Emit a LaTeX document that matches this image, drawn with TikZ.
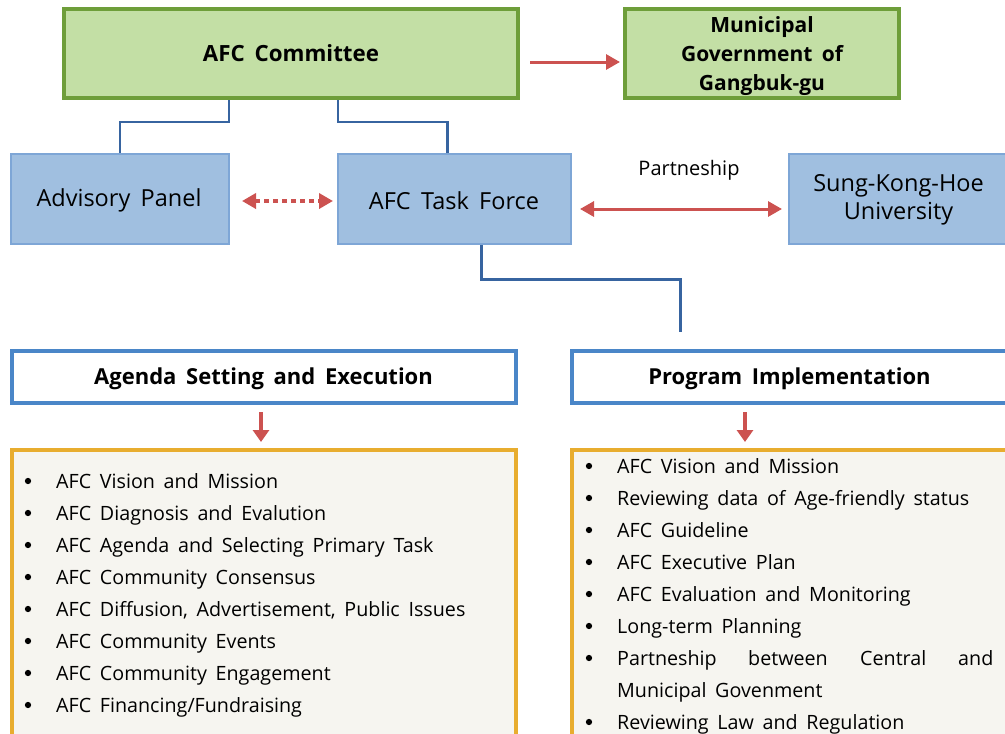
\documentclass[tikz,border=0pt]{standalone}
\usepackage{fontspec}
\setmainfont{Open Sans}[WordSpace={1.7}]
\usetikzlibrary{arrows.meta}
\definecolor{gfill}{HTML}{C3DFA5}
\definecolor{gline}{HTML}{6E9E3A}
\definecolor{bfill}{HTML}{A0BFE0}
\definecolor{bline}{HTML}{7EA6D6}
\definecolor{conn}{HTML}{3764A0}
\definecolor{redar}{HTML}{CC5250}
\definecolor{hline}{HTML}{4A86C8}
\definecolor{oline}{HTML}{E8AD2F}
\definecolor{ofill}{HTML}{F6F5F0}
\tikzset{
  greenbox/.style={draw=gline, fill=gfill, line width=4pt, inner sep=0pt},
  bluebox/.style={draw=bline, fill=bfill, line width=2pt, inner sep=0pt},
  bluetext/.style={inner sep=0pt, align=center, font=\fontsize{23.5}{28}\selectfont},
  headbox/.style={draw=hline, fill=white, line width=4pt, inner sep=0pt},
  headtext/.style={inner sep=0pt, font=\bfseries\fontsize{22}{26}\selectfont},
  listbox/.style={draw=oline, fill=ofill, line width=4pt, inner sep=0pt},
  connline/.style={draw=conn, line width=2.2pt},
  redarrow/.style={draw=redar, line width=3pt, -{Triangle[length=14pt,width=15pt]}},
  redboth/.style={draw=redar, line width=3pt, {Triangle[length=14pt,width=15pt]}-{Triangle[length=14pt,width=15pt]}},
  item/.style={anchor=base west, inner sep=0pt, font=\fontsize{19.7}{24}\selectfont},
  dot/.style={circle, fill=black, inner sep=0pt, minimum size=6.3pt}
}
\begin{document}
\begin{tikzpicture}[x=1pt,y=-1pt]
\useasboundingbox (0,0) rectangle (1005,734);
\clip (0,0) rectangle (1005,734);

% top row
\node[greenbox, minimum width=454pt, minimum height=89pt, font=\bfseries\fontsize{22.3}{26}\selectfont] (comm) at (291,53.5) {AFC Committee};
\node[greenbox, minimum width=274pt, minimum height=89pt] (mun) at (762,53.5) {};
\node[inner sep=0pt, font=\bfseries\fontsize{21}{29}\selectfont, align=center] (munt) at (762,56) {Municipal\\Government of\\Gangbuk-gu};

% second row
\node[bluebox, minimum width=218pt, minimum height=90pt] (adv) at (120,199) {};
\node[bluetext] (advt) at (119,200.5) {Advisory Panel};
\node[bluebox, minimum width=233pt, minimum height=90pt] (tf) at (454.5,199) {};
\node[bluetext] (tft) at (454,200.5) {AFC Task Force};
\node[bluebox, minimum width=223pt, minimum height=90pt] (skh) at (900.5,199) {};
\node[bluetext] (skht) at (898.5,200) {Sung-Kong-Hoe\\University};
\node[inner sep=0pt, font=\fontsize{20}{24}\selectfont] (plabel) at (689,170) {Partneship};

% headers
\node[headbox, minimum width=504pt, minimum height=52pt] (agenda) at (264,377) {};
\node[headtext] (agendat) at (263.5,379) {Agenda Setting and Execution};
\node[headbox, minimum width=441pt, minimum height=52pt] (prog) at (792.5,377) {};
\node[headtext] (progt) at (789.5,379) {Program Implementation};

% list boxes
\node[listbox, minimum width=504pt, minimum height=310pt] (llist) at (264,605) {};
\node[listbox, minimum width=441pt, minimum height=310pt] (rlist) at (792.5,605) {};

% connectors
\draw[connline] (adv.north) -- ++(0,-31) -| ([xshift=-62pt]comm.south);
\draw[connline] ([xshift=-7pt]tf.north) -- ++(0,-31) -| ([xshift=47pt]comm.south);
\coordinate (pe) at (680,332);
\draw[connline, line width=3pt] ([xshift=27pt]tf.south) |- (pe |- 0,279) -- (pe);

% red arrows
\draw[redarrow] ([shift={(10pt,-8.5pt)}]comm.east) -- ([shift={(-3pt,-8.5pt)}]mun.west);
\draw[redboth, dash pattern=on 5pt off 4pt, line width=3.5pt] ([shift={(12pt,-2pt)}]adv.east) -- ([shift={(-4pt,-2pt)}]tf.west);
\draw[redboth] ([shift={(8pt,-10pt)}]tf.east) -- ([shift={(-6pt,-10pt)}]skh.west);
\draw[redarrow, line width=4pt, -{Triangle[length=12pt,width=16pt]}] ([shift={(-3pt,-7pt)}]agenda.south) -- ([shift={(-3pt,6pt)}]llist.north);
\draw[redarrow, line width=4pt, -{Triangle[length=12pt,width=16pt]}] ([shift={(-47.5pt,-7pt)}]prog.south) -- ([shift={(-47.5pt,6pt)}]rlist.north);

% left list
\foreach \t [count=\i from 0] in {AFC Vision and Mission, AFC Diagnosis and Evalution, AFC Agenda and Selecting Primary Task, AFC Community Consensus, {AFC Diffusion, Advertisement, Public Issues}, AFC Community Events, AFC Community Engagement, AFC Financing/Fundraising}{
  \node[dot] (lb\i) at (28,481+32*\i) {};
  \node[item] (li\i) at (56,488+32*\i) {\t};
}
% right list
\foreach \t [count=\i from 0] in {AFC Vision and Mission, Reviewing data of Age-friendly status, AFC Guideline, AFC Executive Plan, AFC Evaluation and Monitoring, Long-term Planning}{
  \node[dot] (rb\i) at (589,466+32*\i) {};
  \node[item] (ri\i) at (617,473+32*\i) {\t};
}
\node[dot] (rb6) at (589,658) {};
\node[item] (ri6a) at (617,665) {Partneship};
\node[item] (ri6b) at (748,665) {between};
\node[item] (ri6c) at (860,665) {Central};
\node[item] (ri6d) at (958,665) {and};
\node[item] (ri7) at (617,697) {Municipal Govenment};
\node[dot] (rb8) at (589,722) {};
\node[item] (ri8) at (617,729) {Reviewing Law and Regulation};
\end{tikzpicture}
\end{document}
